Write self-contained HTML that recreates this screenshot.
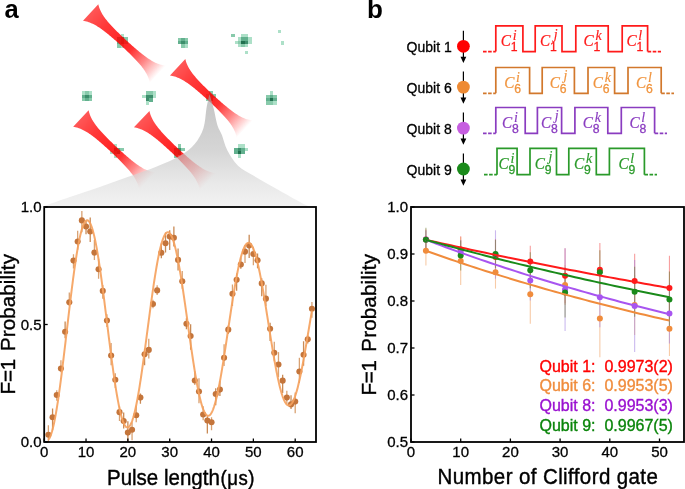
<!DOCTYPE html><html><head><meta charset="utf-8"><style>html,body{margin:0;padding:0;background:#fff;width:685px;height:489px;overflow:hidden}svg{display:block;will-change:transform}text{font-family:"Liberation Sans",sans-serif}.ser{font-family:"Liberation Serif",serif;font-style:italic}.k{stroke:#000;stroke-width:0.3}.k2{stroke:#000;stroke-width:0.4}</style></head><body>
<svg width="685" height="489" viewBox="0 0 685 489">
<defs>
<linearGradient id="cg" x1="0" y1="94" x2="0" y2="207" gradientUnits="userSpaceOnUse"><stop offset="0" stop-color="#a4a4a4"/><stop offset="0.5" stop-color="#c0c0c0"/><stop offset="0.8" stop-color="#dedede"/><stop offset="1" stop-color="#ececec"/></linearGradient>
<filter id="bl" x="-10%" y="-10%" width="120%" height="120%"><feGaussianBlur stdDeviation="0.45"/></filter>
</defs>
<g filter="url(#bl)" shape-rendering="crispEdges">
<rect x="120.62" y="33.80" width="3.46" height="3.46" fill="#ade0c8"/><rect x="117.20" y="37.22" width="3.46" height="3.46" fill="#62b08e"/><rect x="120.62" y="37.22" width="3.46" height="3.46" fill="#3d8e6c"/><rect x="124.04" y="37.22" width="3.46" height="3.46" fill="#88caab"/><rect x="117.20" y="40.64" width="3.46" height="3.46" fill="#62b08e"/><rect x="120.62" y="40.64" width="3.46" height="3.46" fill="#3d8e6c"/><rect x="124.04" y="40.64" width="3.46" height="3.46" fill="#88caab"/><rect x="117.20" y="44.06" width="3.46" height="3.46" fill="#88caab"/><rect x="120.62" y="44.06" width="3.46" height="3.46" fill="#ade0c8"/>
<rect x="177.90" y="37.60" width="3.46" height="3.46" fill="#88caab"/><rect x="181.32" y="37.60" width="3.46" height="3.46" fill="#62b08e"/><rect x="184.74" y="37.60" width="3.46" height="3.46" fill="#88caab"/><rect x="177.90" y="41.02" width="3.46" height="3.46" fill="#62b08e"/><rect x="181.32" y="41.02" width="3.46" height="3.46" fill="#3d8e6c"/><rect x="184.74" y="41.02" width="3.46" height="3.46" fill="#62b08e"/><rect x="181.32" y="44.44" width="3.46" height="3.46" fill="#88caab"/><rect x="184.74" y="44.44" width="3.46" height="3.46" fill="#ade0c8"/>
<rect x="231.10" y="33.70" width="3.46" height="3.46" fill="#88caab"/><rect x="241.36" y="33.70" width="3.46" height="3.46" fill="#ade0c8"/><rect x="244.78" y="33.70" width="3.46" height="3.46" fill="#ade0c8"/><rect x="237.94" y="37.12" width="3.46" height="3.46" fill="#ade0c8"/><rect x="241.36" y="37.12" width="3.46" height="3.46" fill="#62b08e"/><rect x="244.78" y="37.12" width="3.46" height="3.46" fill="#62b08e"/><rect x="248.20" y="37.12" width="3.46" height="3.46" fill="#ade0c8"/><rect x="234.52" y="40.54" width="3.46" height="3.46" fill="#ade0c8"/><rect x="237.94" y="40.54" width="3.46" height="3.46" fill="#88caab"/><rect x="241.36" y="40.54" width="3.46" height="3.46" fill="#22704f"/><rect x="244.78" y="40.54" width="3.46" height="3.46" fill="#3d8e6c"/><rect x="248.20" y="40.54" width="3.46" height="3.46" fill="#ade0c8"/><rect x="237.94" y="43.96" width="3.46" height="3.46" fill="#ade0c8"/><rect x="241.36" y="43.96" width="3.46" height="3.46" fill="#88caab"/><rect x="244.78" y="43.96" width="3.46" height="3.46" fill="#ade0c8"/><rect x="244.78" y="50.80" width="3.46" height="3.46" fill="#ade0c8"/>
<rect x="81.90" y="91.10" width="3.46" height="3.46" fill="#ade0c8"/><rect x="85.32" y="91.10" width="3.46" height="3.46" fill="#88caab"/><rect x="88.74" y="91.10" width="3.46" height="3.46" fill="#ade0c8"/><rect x="81.90" y="94.52" width="3.46" height="3.46" fill="#62b08e"/><rect x="85.32" y="94.52" width="3.46" height="3.46" fill="#3d8e6c"/><rect x="88.74" y="94.52" width="3.46" height="3.46" fill="#62b08e"/><rect x="81.90" y="97.94" width="3.46" height="3.46" fill="#88caab"/><rect x="85.32" y="97.94" width="3.46" height="3.46" fill="#62b08e"/><rect x="88.74" y="97.94" width="3.46" height="3.46" fill="#88caab"/>
<rect x="145.72" y="91.20" width="3.46" height="3.46" fill="#88caab"/><rect x="149.14" y="91.20" width="3.46" height="3.46" fill="#88caab"/><rect x="152.56" y="91.20" width="3.46" height="3.46" fill="#ade0c8"/><rect x="142.30" y="94.62" width="3.46" height="3.46" fill="#ade0c8"/><rect x="145.72" y="94.62" width="3.46" height="3.46" fill="#3d8e6c"/><rect x="149.14" y="94.62" width="3.46" height="3.46" fill="#3d8e6c"/><rect x="152.56" y="94.62" width="3.46" height="3.46" fill="#ade0c8"/><rect x="145.72" y="98.04" width="3.46" height="3.46" fill="#3d8e6c"/><rect x="149.14" y="98.04" width="3.46" height="3.46" fill="#62b08e"/><rect x="145.72" y="101.46" width="3.46" height="3.46" fill="#ade0c8"/>
<rect x="209.22" y="91.00" width="3.46" height="3.46" fill="#88caab"/><rect x="205.80" y="94.42" width="3.46" height="3.46" fill="#ade0c8"/><rect x="209.22" y="94.42" width="3.46" height="3.46" fill="#62b08e"/><rect x="212.64" y="94.42" width="3.46" height="3.46" fill="#88caab"/><rect x="205.80" y="97.84" width="3.46" height="3.46" fill="#88caab"/><rect x="209.22" y="97.84" width="3.46" height="3.46" fill="#62b08e"/>
<rect x="269.72" y="91.20" width="3.46" height="3.46" fill="#ade0c8"/><rect x="266.30" y="94.62" width="3.46" height="3.46" fill="#88caab"/><rect x="269.72" y="94.62" width="3.46" height="3.46" fill="#62b08e"/><rect x="273.14" y="94.62" width="3.46" height="3.46" fill="#88caab"/><rect x="266.30" y="98.04" width="3.46" height="3.46" fill="#62b08e"/><rect x="269.72" y="98.04" width="3.46" height="3.46" fill="#22704f"/><rect x="273.14" y="98.04" width="3.46" height="3.46" fill="#62b08e"/><rect x="266.30" y="101.46" width="3.46" height="3.46" fill="#88caab"/><rect x="269.72" y="101.46" width="3.46" height="3.46" fill="#88caab"/><rect x="273.14" y="101.46" width="3.46" height="3.46" fill="#ade0c8"/>
<rect x="113.52" y="144.10" width="3.46" height="3.46" fill="#ade0c8"/><rect x="113.52" y="147.52" width="3.46" height="3.46" fill="#3d8e6c"/><rect x="116.94" y="147.52" width="3.46" height="3.46" fill="#62b08e"/><rect x="120.36" y="147.52" width="3.46" height="3.46" fill="#88caab"/><rect x="110.10" y="150.94" width="3.46" height="3.46" fill="#ade0c8"/><rect x="113.52" y="150.94" width="3.46" height="3.46" fill="#62b08e"/><rect x="116.94" y="150.94" width="3.46" height="3.46" fill="#3d8e6c"/><rect x="113.52" y="154.36" width="3.46" height="3.46" fill="#ade0c8"/>
<rect x="177.62" y="144.40" width="3.46" height="3.46" fill="#88caab"/><rect x="174.20" y="147.82" width="3.46" height="3.46" fill="#62b08e"/><rect x="177.62" y="147.82" width="3.46" height="3.46" fill="#3d8e6c"/><rect x="181.04" y="147.82" width="3.46" height="3.46" fill="#88caab"/><rect x="174.20" y="151.24" width="3.46" height="3.46" fill="#62b08e"/><rect x="177.62" y="151.24" width="3.46" height="3.46" fill="#3d8e6c"/><rect x="174.20" y="154.66" width="3.46" height="3.46" fill="#88caab"/>
<rect x="237.82" y="144.10" width="3.46" height="3.46" fill="#ade0c8"/><rect x="241.24" y="144.10" width="3.46" height="3.46" fill="#ade0c8"/><rect x="234.40" y="147.52" width="3.46" height="3.46" fill="#62b08e"/><rect x="237.82" y="147.52" width="3.46" height="3.46" fill="#3d8e6c"/><rect x="241.24" y="147.52" width="3.46" height="3.46" fill="#62b08e"/><rect x="244.66" y="147.52" width="3.46" height="3.46" fill="#ade0c8"/><rect x="234.40" y="150.94" width="3.46" height="3.46" fill="#62b08e"/><rect x="237.82" y="150.94" width="3.46" height="3.46" fill="#22704f"/><rect x="241.24" y="150.94" width="3.46" height="3.46" fill="#62b08e"/><rect x="237.82" y="154.36" width="3.46" height="3.46" fill="#ade0c8"/>
<rect x="277.60" y="30.00" width="3.46" height="3.46" fill="#ade0c8"/>
<rect x="280.90" y="41.30" width="3.46" height="3.46" fill="#ade0c8"/>
</g>
<linearGradient id="bm1" x1="0" y1="0" x2="91.30" y2="0" gradientUnits="userSpaceOnUse"><stop offset="0" stop-color="#ff0000" stop-opacity="0.66"/><stop offset="0.222" stop-color="#ff0000" stop-opacity="0.78"/><stop offset="0.496" stop-color="#ff0000" stop-opacity="0.86"/><stop offset="0.606" stop-color="#ff0000" stop-opacity="0.8"/><stop offset="0.792" stop-color="#ff1010" stop-opacity="0.5"/><stop offset="0.934" stop-color="#ff2020" stop-opacity="0.17"/><stop offset="1" stop-color="#ff3030" stop-opacity="0"/></linearGradient><path transform="translate(90.65,12.55) rotate(42.60)" d="M0.00,-11.30 L1.03,-10.61 L2.05,-9.98 L3.08,-9.40 L4.10,-8.87 L5.13,-8.40 L6.16,-7.96 L7.18,-7.56 L8.21,-7.20 L9.23,-6.87 L10.26,-6.57 L11.28,-6.30 L12.31,-6.05 L13.34,-5.82 L14.36,-5.61 L15.39,-5.43 L16.41,-5.26 L17.44,-5.10 L18.47,-4.96 L19.49,-4.83 L20.52,-4.71 L21.54,-4.60 L22.57,-4.50 L23.59,-4.41 L24.62,-4.33 L25.65,-4.26 L26.67,-4.19 L27.70,-4.13 L28.72,-4.07 L29.75,-4.02 L30.78,-3.98 L31.80,-3.93 L32.83,-3.89 L33.85,-3.86 L34.88,-3.83 L35.90,-3.80 L36.93,-3.77 L37.96,-3.75 L38.98,-3.73 L40.01,-3.71 L41.03,-3.69 L42.06,-3.67 L43.09,-3.66 L44.11,-3.64 L45.14,-3.63 L46.16,-3.64 L47.19,-3.65 L48.21,-3.67 L49.24,-3.68 L50.27,-3.70 L51.29,-3.72 L52.32,-3.74 L53.34,-3.76 L54.37,-3.79 L55.40,-3.82 L56.42,-3.85 L57.45,-3.88 L58.47,-3.92 L59.50,-3.96 L60.52,-4.01 L61.55,-4.06 L62.58,-4.11 L63.60,-4.17 L64.63,-4.24 L65.65,-4.31 L66.68,-4.39 L67.71,-4.47 L68.73,-4.57 L69.76,-4.67 L70.78,-4.79 L71.81,-4.91 L72.83,-5.05 L73.86,-5.20 L74.89,-5.37 L75.91,-5.55 L76.94,-5.75 L77.96,-5.97 L78.99,-6.22 L80.02,-6.48 L81.04,-6.77 L82.07,-7.09 L83.09,-7.44 L84.12,-7.83 L85.14,-8.25 L86.17,-8.72 L87.20,-9.23 L88.22,-9.79 L89.25,-10.40 L90.27,-11.08 L91.30,-11.82 L91.30,11.82 L90.27,11.08 L89.25,10.40 L88.22,9.79 L87.20,9.23 L86.17,8.72 L85.14,8.25 L84.12,7.83 L83.09,7.44 L82.07,7.09 L81.04,6.77 L80.02,6.48 L78.99,6.22 L77.96,5.97 L76.94,5.75 L75.91,5.55 L74.89,5.37 L73.86,5.20 L72.83,5.05 L71.81,4.91 L70.78,4.79 L69.76,4.67 L68.73,4.57 L67.71,4.47 L66.68,4.39 L65.65,4.31 L64.63,4.24 L63.60,4.17 L62.58,4.11 L61.55,4.06 L60.52,4.01 L59.50,3.96 L58.47,3.92 L57.45,3.88 L56.42,3.85 L55.40,3.82 L54.37,3.79 L53.34,3.76 L52.32,3.74 L51.29,3.72 L50.27,3.70 L49.24,3.68 L48.21,3.67 L47.19,3.65 L46.16,3.64 L45.14,3.63 L44.11,3.64 L43.09,3.66 L42.06,3.67 L41.03,3.69 L40.01,3.71 L38.98,3.73 L37.96,3.75 L36.93,3.77 L35.90,3.80 L34.88,3.83 L33.85,3.86 L32.83,3.89 L31.80,3.93 L30.78,3.98 L29.75,4.02 L28.72,4.07 L27.70,4.13 L26.67,4.19 L25.65,4.26 L24.62,4.33 L23.59,4.41 L22.57,4.50 L21.54,4.60 L20.52,4.71 L19.49,4.83 L18.47,4.96 L17.44,5.10 L16.41,5.26 L15.39,5.43 L14.36,5.61 L13.34,5.82 L12.31,6.05 L11.28,6.30 L10.26,6.57 L9.23,6.87 L8.21,7.20 L7.18,7.56 L6.16,7.96 L5.13,8.40 L4.10,8.87 L3.08,9.40 L2.05,9.98 L1.03,10.61 L0.00,11.30Z" fill="url(#bm1)"/>
<linearGradient id="bm2" x1="0" y1="0" x2="91.30" y2="0" gradientUnits="userSpaceOnUse"><stop offset="0" stop-color="#ff0000" stop-opacity="0.66"/><stop offset="0.222" stop-color="#ff0000" stop-opacity="0.78"/><stop offset="0.496" stop-color="#ff0000" stop-opacity="0.86"/><stop offset="0.606" stop-color="#ff0000" stop-opacity="0.8"/><stop offset="0.792" stop-color="#ff1010" stop-opacity="0.5"/><stop offset="0.934" stop-color="#ff2020" stop-opacity="0.17"/><stop offset="1" stop-color="#ff3030" stop-opacity="0"/></linearGradient><path transform="translate(177.65,67.20) rotate(42.70)" d="M0.00,-11.30 L1.03,-10.61 L2.05,-9.98 L3.08,-9.40 L4.10,-8.87 L5.13,-8.40 L6.16,-7.96 L7.18,-7.56 L8.21,-7.20 L9.23,-6.87 L10.26,-6.57 L11.28,-6.30 L12.31,-6.05 L13.34,-5.82 L14.36,-5.61 L15.39,-5.43 L16.41,-5.26 L17.44,-5.10 L18.47,-4.96 L19.49,-4.83 L20.52,-4.71 L21.54,-4.60 L22.57,-4.50 L23.59,-4.41 L24.62,-4.33 L25.65,-4.26 L26.67,-4.19 L27.70,-4.13 L28.72,-4.07 L29.75,-4.02 L30.78,-3.98 L31.80,-3.93 L32.83,-3.89 L33.85,-3.86 L34.88,-3.83 L35.90,-3.80 L36.93,-3.77 L37.96,-3.75 L38.98,-3.73 L40.01,-3.71 L41.03,-3.69 L42.06,-3.67 L43.09,-3.66 L44.11,-3.64 L45.14,-3.63 L46.16,-3.64 L47.19,-3.65 L48.21,-3.67 L49.24,-3.68 L50.27,-3.70 L51.29,-3.72 L52.32,-3.74 L53.34,-3.76 L54.37,-3.79 L55.40,-3.82 L56.42,-3.85 L57.45,-3.88 L58.47,-3.92 L59.50,-3.96 L60.52,-4.01 L61.55,-4.06 L62.58,-4.11 L63.60,-4.17 L64.63,-4.24 L65.65,-4.31 L66.68,-4.39 L67.71,-4.47 L68.73,-4.57 L69.76,-4.67 L70.78,-4.79 L71.81,-4.91 L72.83,-5.05 L73.86,-5.20 L74.89,-5.37 L75.91,-5.55 L76.94,-5.75 L77.96,-5.97 L78.99,-6.22 L80.02,-6.48 L81.04,-6.77 L82.07,-7.09 L83.09,-7.44 L84.12,-7.83 L85.14,-8.25 L86.17,-8.72 L87.20,-9.23 L88.22,-9.79 L89.25,-10.40 L90.27,-11.08 L91.30,-11.82 L91.30,11.82 L90.27,11.08 L89.25,10.40 L88.22,9.79 L87.20,9.23 L86.17,8.72 L85.14,8.25 L84.12,7.83 L83.09,7.44 L82.07,7.09 L81.04,6.77 L80.02,6.48 L78.99,6.22 L77.96,5.97 L76.94,5.75 L75.91,5.55 L74.89,5.37 L73.86,5.20 L72.83,5.05 L71.81,4.91 L70.78,4.79 L69.76,4.67 L68.73,4.57 L67.71,4.47 L66.68,4.39 L65.65,4.31 L64.63,4.24 L63.60,4.17 L62.58,4.11 L61.55,4.06 L60.52,4.01 L59.50,3.96 L58.47,3.92 L57.45,3.88 L56.42,3.85 L55.40,3.82 L54.37,3.79 L53.34,3.76 L52.32,3.74 L51.29,3.72 L50.27,3.70 L49.24,3.68 L48.21,3.67 L47.19,3.65 L46.16,3.64 L45.14,3.63 L44.11,3.64 L43.09,3.66 L42.06,3.67 L41.03,3.69 L40.01,3.71 L38.98,3.73 L37.96,3.75 L36.93,3.77 L35.90,3.80 L34.88,3.83 L33.85,3.86 L32.83,3.89 L31.80,3.93 L30.78,3.98 L29.75,4.02 L28.72,4.07 L27.70,4.13 L26.67,4.19 L25.65,4.26 L24.62,4.33 L23.59,4.41 L22.57,4.50 L21.54,4.60 L20.52,4.71 L19.49,4.83 L18.47,4.96 L17.44,5.10 L16.41,5.26 L15.39,5.43 L14.36,5.61 L13.34,5.82 L12.31,6.05 L11.28,6.30 L10.26,6.57 L9.23,6.87 L8.21,7.20 L7.18,7.56 L6.16,7.96 L5.13,8.40 L4.10,8.87 L3.08,9.40 L2.05,9.98 L1.03,10.61 L0.00,11.30Z" fill="url(#bm2)"/>
<linearGradient id="bm3" x1="0" y1="0" x2="91.30" y2="0" gradientUnits="userSpaceOnUse"><stop offset="0" stop-color="#ff0000" stop-opacity="0.66"/><stop offset="0.222" stop-color="#ff0000" stop-opacity="0.78"/><stop offset="0.496" stop-color="#ff0000" stop-opacity="0.86"/><stop offset="0.606" stop-color="#ff0000" stop-opacity="0.8"/><stop offset="0.792" stop-color="#ff1010" stop-opacity="0.5"/><stop offset="0.934" stop-color="#ff2020" stop-opacity="0.17"/><stop offset="1" stop-color="#ff3030" stop-opacity="0"/></linearGradient><path transform="translate(80.90,118.60) rotate(43.20)" d="M0.00,-11.30 L1.03,-10.61 L2.05,-9.98 L3.08,-9.40 L4.10,-8.87 L5.13,-8.40 L6.16,-7.96 L7.18,-7.56 L8.21,-7.20 L9.23,-6.87 L10.26,-6.57 L11.28,-6.30 L12.31,-6.05 L13.34,-5.82 L14.36,-5.61 L15.39,-5.43 L16.41,-5.26 L17.44,-5.10 L18.47,-4.96 L19.49,-4.83 L20.52,-4.71 L21.54,-4.60 L22.57,-4.50 L23.59,-4.41 L24.62,-4.33 L25.65,-4.26 L26.67,-4.19 L27.70,-4.13 L28.72,-4.07 L29.75,-4.02 L30.78,-3.98 L31.80,-3.93 L32.83,-3.89 L33.85,-3.86 L34.88,-3.83 L35.90,-3.80 L36.93,-3.77 L37.96,-3.75 L38.98,-3.73 L40.01,-3.71 L41.03,-3.69 L42.06,-3.67 L43.09,-3.66 L44.11,-3.64 L45.14,-3.63 L46.16,-3.64 L47.19,-3.65 L48.21,-3.67 L49.24,-3.68 L50.27,-3.70 L51.29,-3.72 L52.32,-3.74 L53.34,-3.76 L54.37,-3.79 L55.40,-3.82 L56.42,-3.85 L57.45,-3.88 L58.47,-3.92 L59.50,-3.96 L60.52,-4.01 L61.55,-4.06 L62.58,-4.11 L63.60,-4.17 L64.63,-4.24 L65.65,-4.31 L66.68,-4.39 L67.71,-4.47 L68.73,-4.57 L69.76,-4.67 L70.78,-4.79 L71.81,-4.91 L72.83,-5.05 L73.86,-5.20 L74.89,-5.37 L75.91,-5.55 L76.94,-5.75 L77.96,-5.97 L78.99,-6.22 L80.02,-6.48 L81.04,-6.77 L82.07,-7.09 L83.09,-7.44 L84.12,-7.83 L85.14,-8.25 L86.17,-8.72 L87.20,-9.23 L88.22,-9.79 L89.25,-10.40 L90.27,-11.08 L91.30,-11.82 L91.30,11.82 L90.27,11.08 L89.25,10.40 L88.22,9.79 L87.20,9.23 L86.17,8.72 L85.14,8.25 L84.12,7.83 L83.09,7.44 L82.07,7.09 L81.04,6.77 L80.02,6.48 L78.99,6.22 L77.96,5.97 L76.94,5.75 L75.91,5.55 L74.89,5.37 L73.86,5.20 L72.83,5.05 L71.81,4.91 L70.78,4.79 L69.76,4.67 L68.73,4.57 L67.71,4.47 L66.68,4.39 L65.65,4.31 L64.63,4.24 L63.60,4.17 L62.58,4.11 L61.55,4.06 L60.52,4.01 L59.50,3.96 L58.47,3.92 L57.45,3.88 L56.42,3.85 L55.40,3.82 L54.37,3.79 L53.34,3.76 L52.32,3.74 L51.29,3.72 L50.27,3.70 L49.24,3.68 L48.21,3.67 L47.19,3.65 L46.16,3.64 L45.14,3.63 L44.11,3.64 L43.09,3.66 L42.06,3.67 L41.03,3.69 L40.01,3.71 L38.98,3.73 L37.96,3.75 L36.93,3.77 L35.90,3.80 L34.88,3.83 L33.85,3.86 L32.83,3.89 L31.80,3.93 L30.78,3.98 L29.75,4.02 L28.72,4.07 L27.70,4.13 L26.67,4.19 L25.65,4.26 L24.62,4.33 L23.59,4.41 L22.57,4.50 L21.54,4.60 L20.52,4.71 L19.49,4.83 L18.47,4.96 L17.44,5.10 L16.41,5.26 L15.39,5.43 L14.36,5.61 L13.34,5.82 L12.31,6.05 L11.28,6.30 L10.26,6.57 L9.23,6.87 L8.21,7.20 L7.18,7.56 L6.16,7.96 L5.13,8.40 L4.10,8.87 L3.08,9.40 L2.05,9.98 L1.03,10.61 L0.00,11.30Z" fill="url(#bm3)"/>
<linearGradient id="bm4" x1="0" y1="0" x2="91.30" y2="0" gradientUnits="userSpaceOnUse"><stop offset="0" stop-color="#ff0000" stop-opacity="0.66"/><stop offset="0.222" stop-color="#ff0000" stop-opacity="0.78"/><stop offset="0.496" stop-color="#ff0000" stop-opacity="0.86"/><stop offset="0.606" stop-color="#ff0000" stop-opacity="0.8"/><stop offset="0.792" stop-color="#ff1010" stop-opacity="0.5"/><stop offset="0.934" stop-color="#ff2020" stop-opacity="0.17"/><stop offset="1" stop-color="#ff3030" stop-opacity="0"/></linearGradient><path transform="translate(141.70,119.15) rotate(43.40)" d="M0.00,-11.30 L1.03,-10.61 L2.05,-9.98 L3.08,-9.40 L4.10,-8.87 L5.13,-8.40 L6.16,-7.96 L7.18,-7.56 L8.21,-7.20 L9.23,-6.87 L10.26,-6.57 L11.28,-6.30 L12.31,-6.05 L13.34,-5.82 L14.36,-5.61 L15.39,-5.43 L16.41,-5.26 L17.44,-5.10 L18.47,-4.96 L19.49,-4.83 L20.52,-4.71 L21.54,-4.60 L22.57,-4.50 L23.59,-4.41 L24.62,-4.33 L25.65,-4.26 L26.67,-4.19 L27.70,-4.13 L28.72,-4.07 L29.75,-4.02 L30.78,-3.98 L31.80,-3.93 L32.83,-3.89 L33.85,-3.86 L34.88,-3.83 L35.90,-3.80 L36.93,-3.77 L37.96,-3.75 L38.98,-3.73 L40.01,-3.71 L41.03,-3.69 L42.06,-3.67 L43.09,-3.66 L44.11,-3.64 L45.14,-3.63 L46.16,-3.64 L47.19,-3.65 L48.21,-3.67 L49.24,-3.68 L50.27,-3.70 L51.29,-3.72 L52.32,-3.74 L53.34,-3.76 L54.37,-3.79 L55.40,-3.82 L56.42,-3.85 L57.45,-3.88 L58.47,-3.92 L59.50,-3.96 L60.52,-4.01 L61.55,-4.06 L62.58,-4.11 L63.60,-4.17 L64.63,-4.24 L65.65,-4.31 L66.68,-4.39 L67.71,-4.47 L68.73,-4.57 L69.76,-4.67 L70.78,-4.79 L71.81,-4.91 L72.83,-5.05 L73.86,-5.20 L74.89,-5.37 L75.91,-5.55 L76.94,-5.75 L77.96,-5.97 L78.99,-6.22 L80.02,-6.48 L81.04,-6.77 L82.07,-7.09 L83.09,-7.44 L84.12,-7.83 L85.14,-8.25 L86.17,-8.72 L87.20,-9.23 L88.22,-9.79 L89.25,-10.40 L90.27,-11.08 L91.30,-11.82 L91.30,11.82 L90.27,11.08 L89.25,10.40 L88.22,9.79 L87.20,9.23 L86.17,8.72 L85.14,8.25 L84.12,7.83 L83.09,7.44 L82.07,7.09 L81.04,6.77 L80.02,6.48 L78.99,6.22 L77.96,5.97 L76.94,5.75 L75.91,5.55 L74.89,5.37 L73.86,5.20 L72.83,5.05 L71.81,4.91 L70.78,4.79 L69.76,4.67 L68.73,4.57 L67.71,4.47 L66.68,4.39 L65.65,4.31 L64.63,4.24 L63.60,4.17 L62.58,4.11 L61.55,4.06 L60.52,4.01 L59.50,3.96 L58.47,3.92 L57.45,3.88 L56.42,3.85 L55.40,3.82 L54.37,3.79 L53.34,3.76 L52.32,3.74 L51.29,3.72 L50.27,3.70 L49.24,3.68 L48.21,3.67 L47.19,3.65 L46.16,3.64 L45.14,3.63 L44.11,3.64 L43.09,3.66 L42.06,3.67 L41.03,3.69 L40.01,3.71 L38.98,3.73 L37.96,3.75 L36.93,3.77 L35.90,3.80 L34.88,3.83 L33.85,3.86 L32.83,3.89 L31.80,3.93 L30.78,3.98 L29.75,4.02 L28.72,4.07 L27.70,4.13 L26.67,4.19 L25.65,4.26 L24.62,4.33 L23.59,4.41 L22.57,4.50 L21.54,4.60 L20.52,4.71 L19.49,4.83 L18.47,4.96 L17.44,5.10 L16.41,5.26 L15.39,5.43 L14.36,5.61 L13.34,5.82 L12.31,6.05 L11.28,6.30 L10.26,6.57 L9.23,6.87 L8.21,7.20 L7.18,7.56 L6.16,7.96 L5.13,8.40 L4.10,8.87 L3.08,9.40 L2.05,9.98 L1.03,10.61 L0.00,11.30Z" fill="url(#bm4)"/>
<path d="M209.50,94.00 C209.02,96.27 207.60,101.93 206.60,107.60 C205.60,113.27 205.48,121.93 203.50,128.00 C201.52,134.07 198.60,139.38 194.70,144.00 C190.80,148.62 186.42,151.97 180.10,155.70 C173.78,159.43 165.55,162.85 156.80,166.40 C148.05,169.95 137.33,173.50 127.60,177.00 C117.87,180.50 108.13,184.02 98.40,187.40 C88.67,190.78 77.97,194.28 69.20,197.30 C60.43,200.32 49.92,203.88 45.80,205.50 C41.68,207.12 44.72,206.75 44.50,207.00 L309.00,207.00 C308.67,206.77 308.35,206.35 307.00,205.60 C305.65,204.85 306.02,205.32 300.90,202.50 C295.78,199.68 284.23,193.18 276.30,188.70 C268.37,184.22 259.68,179.43 253.30,175.60 C246.92,171.77 242.33,169.92 238.00,165.70 C233.67,161.48 229.98,155.42 227.30,150.30 C224.62,145.18 223.53,139.15 221.90,135.00 C220.27,130.85 218.85,129.73 217.50,125.40 C216.15,121.07 214.75,112.90 213.80,109.00 C212.85,105.10 212.52,104.50 211.80,102.00 C211.08,99.50 209.88,95.33 209.50,94.00 Z" fill="url(#cg)" fill-opacity="0.66"/>
<text x="4.6" y="18.1" font-size="25.5" font-weight="bold">a</text>
<text x="367" y="18" font-size="26" font-weight="bold">b</text>
<clipPath id="cpa"><rect x="44.2" y="207" width="271.8" height="235"/></clipPath><g clip-path="url(#cpa)">
<line x1="48.38" y1="425.37" x2="48.38" y2="445.73" stroke="#d9a273" stroke-width="1.3"/>
<line x1="52.57" y1="408.40" x2="52.57" y2="430.29" stroke="#c98a55" stroke-width="1.3"/>
<line x1="56.75" y1="390.15" x2="56.75" y2="400.72" stroke="#d9a273" stroke-width="1.3"/>
<line x1="60.93" y1="360.26" x2="60.93" y2="372.29" stroke="#d9a273" stroke-width="1.3"/>
<line x1="65.12" y1="321.40" x2="65.12" y2="338.26" stroke="#c98a55" stroke-width="1.3"/>
<line x1="69.30" y1="292.40" x2="69.30" y2="305.95" stroke="#d9a273" stroke-width="1.3"/>
<line x1="73.48" y1="254.31" x2="73.48" y2="268.49" stroke="#d9a273" stroke-width="1.3"/>
<line x1="77.67" y1="230.69" x2="77.67" y2="249.73" stroke="#d9a273" stroke-width="1.3"/>
<line x1="81.85" y1="211.11" x2="81.85" y2="232.17" stroke="#d9a273" stroke-width="1.3"/>
<line x1="86.03" y1="220.63" x2="86.03" y2="234.13" stroke="#c98a55" stroke-width="1.3"/>
<line x1="90.22" y1="217.59" x2="90.22" y2="242.08" stroke="#c98a55" stroke-width="1.3"/>
<line x1="94.40" y1="240.12" x2="94.40" y2="260.11" stroke="#d9a273" stroke-width="1.3"/>
<line x1="98.58" y1="258.84" x2="98.58" y2="278.70" stroke="#d9a273" stroke-width="1.3"/>
<line x1="102.77" y1="284.99" x2="102.77" y2="298.72" stroke="#d9a273" stroke-width="1.3"/>
<line x1="106.95" y1="314.13" x2="106.95" y2="327.12" stroke="#d9a273" stroke-width="1.3"/>
<line x1="111.13" y1="342.89" x2="111.13" y2="365.24" stroke="#d9a273" stroke-width="1.3"/>
<line x1="115.32" y1="373.26" x2="115.32" y2="388.06" stroke="#d9a273" stroke-width="1.3"/>
<line x1="119.50" y1="406.50" x2="119.50" y2="421.12" stroke="#d9a273" stroke-width="1.3"/>
<line x1="123.68" y1="412.45" x2="123.68" y2="428.44" stroke="#c98a55" stroke-width="1.3"/>
<line x1="127.87" y1="421.18" x2="127.87" y2="443.43" stroke="#c98a55" stroke-width="1.3"/>
<line x1="132.05" y1="422.30" x2="132.05" y2="440.37" stroke="#d9a273" stroke-width="1.3"/>
<line x1="136.23" y1="405.63" x2="136.23" y2="422.18" stroke="#d9a273" stroke-width="1.3"/>
<line x1="140.42" y1="393.41" x2="140.42" y2="403.68" stroke="#c98a55" stroke-width="1.3"/>
<line x1="144.60" y1="348.38" x2="144.60" y2="365.18" stroke="#c98a55" stroke-width="1.3"/>
<line x1="148.78" y1="338.70" x2="148.78" y2="358.43" stroke="#d9a273" stroke-width="1.3"/>
<line x1="152.97" y1="299.82" x2="152.97" y2="308.35" stroke="#d9a273" stroke-width="1.3"/>
<line x1="157.15" y1="285.29" x2="157.15" y2="295.01" stroke="#d9a273" stroke-width="1.3"/>
<line x1="161.33" y1="243.45" x2="161.33" y2="258.34" stroke="#c98a55" stroke-width="1.3"/>
<line x1="165.52" y1="232.46" x2="165.52" y2="252.44" stroke="#c98a55" stroke-width="1.3"/>
<line x1="169.70" y1="230.29" x2="169.70" y2="249.94" stroke="#c98a55" stroke-width="1.3"/>
<line x1="173.88" y1="226.58" x2="173.88" y2="246.39" stroke="#c98a55" stroke-width="1.3"/>
<line x1="178.07" y1="248.47" x2="178.07" y2="270.38" stroke="#c98a55" stroke-width="1.3"/>
<line x1="182.25" y1="271.03" x2="182.25" y2="288.65" stroke="#d9a273" stroke-width="1.3"/>
<line x1="186.43" y1="318.19" x2="186.43" y2="329.35" stroke="#c98a55" stroke-width="1.3"/>
<line x1="190.62" y1="324.19" x2="190.62" y2="349.82" stroke="#c98a55" stroke-width="1.3"/>
<line x1="194.80" y1="371.16" x2="194.80" y2="384.90" stroke="#d9a273" stroke-width="1.3"/>
<line x1="198.98" y1="378.14" x2="198.98" y2="403.33" stroke="#d9a273" stroke-width="1.3"/>
<line x1="203.17" y1="406.17" x2="203.17" y2="420.34" stroke="#d9a273" stroke-width="1.3"/>
<line x1="207.35" y1="416.31" x2="207.35" y2="433.58" stroke="#c98a55" stroke-width="1.3"/>
<line x1="211.53" y1="417.22" x2="211.53" y2="430.16" stroke="#d9a273" stroke-width="1.3"/>
<line x1="215.72" y1="388.32" x2="215.72" y2="405.31" stroke="#c98a55" stroke-width="1.3"/>
<line x1="219.90" y1="381.00" x2="219.90" y2="396.03" stroke="#c98a55" stroke-width="1.3"/>
<line x1="224.08" y1="344.23" x2="224.08" y2="366.00" stroke="#d9a273" stroke-width="1.3"/>
<line x1="228.27" y1="325.53" x2="228.27" y2="334.07" stroke="#c98a55" stroke-width="1.3"/>
<line x1="232.45" y1="284.47" x2="232.45" y2="306.10" stroke="#d9a273" stroke-width="1.3"/>
<line x1="236.63" y1="273.57" x2="236.63" y2="290.69" stroke="#c98a55" stroke-width="1.3"/>
<line x1="240.82" y1="257.45" x2="240.82" y2="268.78" stroke="#c98a55" stroke-width="1.3"/>
<line x1="245.00" y1="245.05" x2="245.00" y2="263.01" stroke="#d9a273" stroke-width="1.3"/>
<line x1="249.18" y1="234.67" x2="249.18" y2="257.96" stroke="#c98a55" stroke-width="1.3"/>
<line x1="253.37" y1="246.68" x2="253.37" y2="265.21" stroke="#d9a273" stroke-width="1.3"/>
<line x1="257.55" y1="253.50" x2="257.55" y2="268.31" stroke="#c98a55" stroke-width="1.3"/>
<line x1="261.73" y1="278.22" x2="261.73" y2="296.21" stroke="#c98a55" stroke-width="1.3"/>
<line x1="265.92" y1="284.85" x2="265.92" y2="306.06" stroke="#d9a273" stroke-width="1.3"/>
<line x1="270.10" y1="322.66" x2="270.10" y2="341.01" stroke="#c98a55" stroke-width="1.3"/>
<line x1="274.28" y1="341.79" x2="274.28" y2="361.33" stroke="#d9a273" stroke-width="1.3"/>
<line x1="278.47" y1="352.11" x2="278.47" y2="377.20" stroke="#d9a273" stroke-width="1.3"/>
<line x1="282.65" y1="374.86" x2="282.65" y2="392.99" stroke="#c98a55" stroke-width="1.3"/>
<line x1="286.83" y1="390.73" x2="286.83" y2="404.06" stroke="#d9a273" stroke-width="1.3"/>
<line x1="291.02" y1="395.17" x2="291.02" y2="408.94" stroke="#c98a55" stroke-width="1.3"/>
<line x1="295.20" y1="392.40" x2="295.20" y2="413.30" stroke="#d9a273" stroke-width="1.3"/>
<line x1="299.38" y1="357.77" x2="299.38" y2="382.97" stroke="#d9a273" stroke-width="1.3"/>
<line x1="303.57" y1="341.26" x2="303.57" y2="365.75" stroke="#c98a55" stroke-width="1.3"/>
<line x1="307.75" y1="335.30" x2="307.75" y2="343.42" stroke="#c98a55" stroke-width="1.3"/>
<line x1="311.93" y1="302.01" x2="311.93" y2="317.74" stroke="#d9a273" stroke-width="1.3"/>
<circle cx="48.38" cy="434.71" r="3.05" fill="#c4753b"/>
<circle cx="52.57" cy="417.32" r="3.05" fill="#c4753b"/>
<circle cx="56.75" cy="395.00" r="3.05" fill="#c4753b"/>
<circle cx="60.93" cy="368.44" r="3.05" fill="#c4753b"/>
<circle cx="65.12" cy="331.79" r="3.05" fill="#c4753b"/>
<circle cx="69.30" cy="302.18" r="3.05" fill="#c4753b"/>
<circle cx="73.48" cy="260.58" r="3.05" fill="#c4753b"/>
<circle cx="77.67" cy="241.55" r="3.05" fill="#c4753b"/>
<circle cx="81.85" cy="220.40" r="3.05" fill="#c4753b"/>
<circle cx="86.03" cy="226.50" r="3.05" fill="#c4753b"/>
<circle cx="90.22" cy="231.44" r="3.05" fill="#c4753b"/>
<circle cx="94.40" cy="252.59" r="3.05" fill="#c4753b"/>
<circle cx="98.58" cy="269.27" r="3.05" fill="#c4753b"/>
<circle cx="102.77" cy="290.89" r="3.05" fill="#c4753b"/>
<circle cx="106.95" cy="320.50" r="3.05" fill="#c4753b"/>
<circle cx="111.13" cy="355.52" r="3.05" fill="#c4753b"/>
<circle cx="115.32" cy="379.73" r="3.05" fill="#c4753b"/>
<circle cx="119.50" cy="412.15" r="3.05" fill="#c4753b"/>
<circle cx="123.68" cy="421.08" r="3.05" fill="#c4753b"/>
<circle cx="127.87" cy="432.60" r="3.05" fill="#c4753b"/>
<circle cx="132.05" cy="429.78" r="3.05" fill="#c4753b"/>
<circle cx="136.23" cy="415.21" r="3.05" fill="#c4753b"/>
<circle cx="140.42" cy="397.58" r="3.05" fill="#c4753b"/>
<circle cx="144.60" cy="354.35" r="3.05" fill="#c4753b"/>
<circle cx="148.78" cy="349.88" r="3.05" fill="#c4753b"/>
<circle cx="152.97" cy="304.06" r="3.05" fill="#c4753b"/>
<circle cx="157.15" cy="290.42" r="3.05" fill="#c4753b"/>
<circle cx="161.33" cy="252.82" r="3.05" fill="#c4753b"/>
<circle cx="165.52" cy="243.19" r="3.05" fill="#c4753b"/>
<circle cx="169.70" cy="236.61" r="3.05" fill="#c4753b"/>
<circle cx="173.88" cy="237.78" r="3.05" fill="#c4753b"/>
<circle cx="178.07" cy="259.88" r="3.05" fill="#c4753b"/>
<circle cx="182.25" cy="281.26" r="3.05" fill="#c4753b"/>
<circle cx="186.43" cy="323.80" r="3.05" fill="#c4753b"/>
<circle cx="190.62" cy="336.01" r="3.05" fill="#c4753b"/>
<circle cx="194.80" cy="380.43" r="3.05" fill="#c4753b"/>
<circle cx="198.98" cy="391.48" r="3.05" fill="#c4753b"/>
<circle cx="203.17" cy="414.50" r="3.05" fill="#c4753b"/>
<circle cx="207.35" cy="420.62" r="3.05" fill="#c4753b"/>
<circle cx="211.53" cy="422.26" r="3.05" fill="#c4753b"/>
<circle cx="215.72" cy="394.06" r="3.05" fill="#c4753b"/>
<circle cx="219.90" cy="389.60" r="3.05" fill="#c4753b"/>
<circle cx="224.08" cy="357.87" r="3.05" fill="#c4753b"/>
<circle cx="228.27" cy="329.67" r="3.05" fill="#c4753b"/>
<circle cx="232.45" cy="293.72" r="3.05" fill="#c4753b"/>
<circle cx="236.63" cy="279.85" r="3.05" fill="#c4753b"/>
<circle cx="240.82" cy="264.57" r="3.05" fill="#c4753b"/>
<circle cx="245.00" cy="251.65" r="3.05" fill="#c4753b"/>
<circle cx="249.18" cy="245.54" r="3.05" fill="#c4753b"/>
<circle cx="253.37" cy="254.00" r="3.05" fill="#c4753b"/>
<circle cx="257.55" cy="260.35" r="3.05" fill="#c4753b"/>
<circle cx="261.73" cy="283.38" r="3.05" fill="#c4753b"/>
<circle cx="265.92" cy="298.65" r="3.05" fill="#c4753b"/>
<circle cx="270.10" cy="328.73" r="3.05" fill="#c4753b"/>
<circle cx="274.28" cy="352.70" r="3.05" fill="#c4753b"/>
<circle cx="278.47" cy="364.45" r="3.05" fill="#c4753b"/>
<circle cx="282.65" cy="380.67" r="3.05" fill="#c4753b"/>
<circle cx="286.83" cy="397.58" r="3.05" fill="#c4753b"/>
<circle cx="291.02" cy="404.40" r="3.05" fill="#c4753b"/>
<circle cx="295.20" cy="401.58" r="3.05" fill="#c4753b"/>
<circle cx="299.38" cy="371.50" r="3.05" fill="#c4753b"/>
<circle cx="303.57" cy="354.81" r="3.05" fill="#c4753b"/>
<circle cx="307.75" cy="339.31" r="3.05" fill="#c4753b"/>
<circle cx="311.93" cy="308.75" r="3.05" fill="#c4753b"/>
<polyline fill="none" stroke="#f5a25e" stroke-width="2" stroke-opacity="0.92" points="48.22,439.86 48.74,439.25 49.27,438.46 49.80,437.47 50.33,436.30 50.86,434.95 51.39,433.42 51.92,431.71 52.44,429.83 52.97,427.77 53.50,425.55 54.03,423.17 54.56,420.62 55.09,417.93 55.61,415.08 56.14,412.09 56.67,408.96 57.20,405.69 57.73,402.30 58.26,398.79 58.79,395.16 59.31,391.42 59.84,387.57 60.37,383.63 60.90,379.61 61.43,375.50 61.96,371.31 62.49,367.06 63.01,362.74 63.54,358.37 64.07,353.96 64.60,349.50 65.13,345.02 65.66,340.51 66.18,335.99 66.71,331.46 67.24,326.93 67.77,322.40 68.30,317.90 68.83,313.41 69.36,308.95 69.88,304.54 70.41,300.16 70.94,295.84 71.47,291.58 72.00,287.39 72.53,283.27 73.06,279.23 73.58,275.28 74.11,271.42 74.64,267.66 75.17,264.01 75.70,260.48 76.23,257.06 76.75,253.76 77.28,250.59 77.81,247.56 78.34,244.67 78.87,241.92 79.40,239.32 79.93,236.87 80.45,234.58 80.98,232.45 81.51,230.49 82.04,228.69 82.57,227.06 83.10,225.60 83.62,224.31 84.15,223.20 84.68,222.27 85.21,221.52 85.74,220.95 86.27,220.56 86.80,220.34 87.32,220.32 87.85,220.47 88.38,220.80 88.91,221.31 89.44,222.00 89.97,222.86 90.50,223.90 91.02,225.12 91.55,226.50 92.08,228.05 92.61,229.77 93.14,231.65 93.67,233.69 94.19,235.88 94.72,238.22 95.25,240.71 95.78,243.35 96.31,246.12 96.84,249.02 97.37,252.05 97.89,255.20 98.42,258.47 98.95,261.85 99.48,265.34 100.01,268.92 100.54,272.60 101.07,276.36 101.59,280.20 102.12,284.12 102.65,288.10 103.18,292.14 103.71,296.24 104.24,300.38 104.76,304.55 105.29,308.76 105.82,313.00 106.35,317.25 106.88,321.51 107.41,325.77 107.94,330.03 108.46,334.28 108.99,338.51 109.52,342.71 110.05,346.88 110.58,351.01 111.11,355.09 111.63,359.12 112.16,363.08 112.69,366.98 113.22,370.81 113.75,374.55 114.28,378.21 114.81,381.78 115.33,385.24 115.86,388.61 116.39,391.86 116.92,395.00 117.45,398.02 117.98,400.91 118.51,403.67 119.03,406.30 119.56,408.79 120.09,411.14 120.62,413.34 121.15,415.40 121.68,417.30 122.20,419.04 122.73,420.62 123.26,422.05 123.79,423.31 124.32,424.40 124.85,425.33 125.38,426.09 125.90,426.68 126.43,427.10 126.96,427.36 127.49,427.44 128.02,427.35 128.55,427.09 129.08,426.66 129.60,426.06 130.13,425.30 130.66,424.37 131.19,423.28 131.72,422.03 132.25,420.61 132.77,419.04 133.30,417.32 133.83,415.45 134.36,413.43 134.89,411.26 135.42,408.96 135.95,406.52 136.47,403.96 137.00,401.26 137.53,398.44 138.06,395.51 138.59,392.47 139.12,389.31 139.65,386.06 140.17,382.72 140.70,379.28 141.23,375.76 141.76,372.16 142.29,368.50 142.82,364.76 143.34,360.97 143.87,357.13 144.40,353.25 144.93,349.32 145.46,345.36 145.99,341.38 146.52,337.38 147.04,333.37 147.57,329.35 148.10,325.34 148.63,321.33 149.16,317.34 149.69,313.38 150.21,309.44 150.74,305.54 151.27,301.68 151.80,297.87 152.33,294.11 152.86,290.41 153.39,286.79 153.91,283.23 154.44,279.76 154.97,276.37 155.50,273.07 156.03,269.87 156.56,266.77 157.09,263.78 157.61,260.90 158.14,258.13 158.67,255.49 159.20,252.97 159.73,250.58 160.26,248.32 160.78,246.20 161.31,244.22 161.84,242.38 162.37,240.69 162.90,239.15 163.43,237.75 163.96,236.51 164.48,235.43 165.01,234.50 165.54,233.73 166.07,233.12 166.60,232.67 167.13,232.38 167.66,232.25 168.18,232.28 168.71,232.47 169.24,232.81 169.77,233.32 170.30,233.99 170.83,234.81 171.35,235.78 171.88,236.91 172.41,238.19 172.94,239.62 173.47,241.19 174.00,242.91 174.53,244.76 175.05,246.75 175.58,248.87 176.11,251.12 176.64,253.50 177.17,256.00 177.70,258.61 178.22,261.33 178.75,264.16 179.28,267.09 179.81,270.12 180.34,273.24 180.87,276.45 181.40,279.73 181.92,283.09 182.45,286.52 182.98,290.01 183.51,293.56 184.04,297.16 184.57,300.80 185.10,304.48 185.62,308.20 186.15,311.94 186.68,315.70 187.21,319.47 187.74,323.25 188.27,327.02 188.79,330.79 189.32,334.55 189.85,338.29 190.38,342.01 190.91,345.69 191.44,349.33 191.97,352.93 192.49,356.49 193.02,359.98 193.55,363.41 194.08,366.78 194.61,370.07 195.14,373.29 195.67,376.42 196.19,379.46 196.72,382.40 197.25,385.25 197.78,388.00 198.31,390.63 198.84,393.16 199.36,395.57 199.89,397.85 200.42,400.02 200.95,402.05 201.48,403.96 202.01,405.73 202.54,407.37 203.06,408.86 203.59,410.22 204.12,411.43 204.65,412.49 205.18,413.41 205.71,414.18 206.24,414.81 206.76,415.28 207.29,415.60 207.82,415.77 208.35,415.79 208.88,415.66 209.41,415.37 209.93,414.94 210.46,414.36 210.99,413.63 211.52,412.76 212.05,411.74 212.58,410.58 213.11,409.28 213.63,407.84 214.16,406.27 214.69,404.56 215.22,402.72 215.75,400.76 216.28,398.68 216.80,396.48 217.33,394.16 217.86,391.74 218.39,389.20 218.92,386.57 219.45,383.84 219.98,381.01 220.50,378.10 221.03,375.11 221.56,372.03 222.09,368.89 222.62,365.68 223.15,362.41 223.68,359.08 224.20,355.71 224.73,352.29 225.26,348.83 225.79,345.34 226.32,341.82 226.85,338.29 227.37,334.74 227.90,331.18 228.43,327.62 228.96,324.07 229.49,320.52 230.02,316.99 230.55,313.48 231.07,310.00 231.60,306.56 232.13,303.15 232.66,299.79 233.19,296.48 233.72,293.23 234.25,290.03 234.77,286.91 235.30,283.85 235.83,280.88 236.36,277.99 236.89,275.18 237.42,272.46 237.94,269.85 238.47,267.33 239.00,264.91 239.53,262.61 240.06,260.41 240.59,258.34 241.12,256.38 241.64,254.54 242.17,252.83 242.70,251.24 243.23,249.79 243.76,248.47 244.29,247.28 244.81,246.23 245.34,245.32 245.87,244.54 246.40,243.91 246.93,243.42 247.46,243.07 247.99,242.86 248.51,242.79 249.04,242.87 249.57,243.08 250.10,243.44 250.63,243.94 251.16,244.58 251.69,245.35 252.21,246.27 252.74,247.31 253.27,248.49 253.80,249.80 254.33,251.24 254.86,252.80 255.38,254.49 255.91,256.29 256.44,258.21 256.97,260.25 257.50,262.39 258.03,264.64 258.56,266.99 259.08,269.44 259.61,271.98 260.14,274.61 260.67,277.32 261.20,280.11 261.73,282.98 262.26,285.91 262.78,288.91 263.31,291.97 263.84,295.08 264.37,298.24 264.90,301.45 265.43,304.69 265.95,307.96 266.48,311.26 267.01,314.58 267.54,317.92 268.07,321.26 268.60,324.61 269.13,327.96 269.65,331.29 270.18,334.62 270.71,337.93 271.24,341.21 271.77,344.46 272.30,347.68 272.82,350.85 273.35,353.98 273.88,357.06 274.41,360.09 274.94,363.05 275.47,365.94 276.00,368.76 276.52,371.51 277.05,374.18 277.58,376.76 278.11,379.25 278.64,381.65 279.17,383.95 279.70,386.15 280.22,388.25 280.75,390.24 281.28,392.12 281.81,393.88 282.34,395.53 282.87,397.06 283.39,398.46 283.92,399.75 284.45,400.90 284.98,401.93 285.51,402.83 286.04,403.60 286.57,404.24 287.09,404.74 287.62,405.11 288.15,405.35 288.68,405.45 289.21,405.42 289.74,405.26 290.27,404.96 290.79,404.53 291.32,403.97 291.85,403.28 292.38,402.46 292.91,401.52 293.44,400.44 293.96,399.25 294.49,397.93 295.02,396.49 295.55,394.94 296.08,393.28 296.61,391.50 297.14,389.62 297.66,387.63 298.19,385.54 298.72,383.36 299.25,381.08 299.78,378.72 300.31,376.26 300.84,373.73 301.36,371.13 301.89,368.45 302.42,365.70 302.95,362.90 303.48,360.03 304.01,357.12 304.53,354.15 305.06,351.15 305.59,348.10 306.12,345.03 306.65,341.93 307.18,338.80 307.71,335.66 308.23,332.52 308.76,329.36 309.29,326.21 309.82,323.06 310.35,319.92 310.88,316.80 311.40,313.70 311.93,310.62"/>
</g>
<rect x="44.20" y="207.00" width="271.80" height="235.00" fill="none" stroke="#000" stroke-width="1.8"/>
<line x1="44.20" y1="442.00" x2="44.20" y2="438.50" stroke="#000" stroke-width="1.3"/>
<text x="44.20" y="457" font-size="15" text-anchor="middle" class="k">0</text>
<line x1="86.03" y1="442.00" x2="86.03" y2="438.50" stroke="#000" stroke-width="1.3"/>
<text x="86.03" y="457" font-size="15" text-anchor="middle" class="k">10</text>
<line x1="127.87" y1="442.00" x2="127.87" y2="438.50" stroke="#000" stroke-width="1.3"/>
<text x="127.87" y="457" font-size="15" text-anchor="middle" class="k">20</text>
<line x1="169.70" y1="442.00" x2="169.70" y2="438.50" stroke="#000" stroke-width="1.3"/>
<text x="169.70" y="457" font-size="15" text-anchor="middle" class="k">30</text>
<line x1="211.53" y1="442.00" x2="211.53" y2="438.50" stroke="#000" stroke-width="1.3"/>
<text x="211.53" y="457" font-size="15" text-anchor="middle" class="k">40</text>
<line x1="253.37" y1="442.00" x2="253.37" y2="438.50" stroke="#000" stroke-width="1.3"/>
<text x="253.37" y="457" font-size="15" text-anchor="middle" class="k">50</text>
<line x1="295.20" y1="442.00" x2="295.20" y2="438.50" stroke="#000" stroke-width="1.3"/>
<text x="295.20" y="457" font-size="15" text-anchor="middle" class="k">60</text>
<line x1="44.20" y1="442.00" x2="47.70" y2="442.00" stroke="#000" stroke-width="1.3"/>
<text x="41.5" y="447.40" font-size="15" text-anchor="end" class="k">0.0</text>
<line x1="44.20" y1="324.50" x2="47.70" y2="324.50" stroke="#000" stroke-width="1.3"/>
<text x="41.5" y="329.90" font-size="15" text-anchor="end" class="k">0.5</text>
<line x1="44.20" y1="207.00" x2="47.70" y2="207.00" stroke="#000" stroke-width="1.3"/>
<text x="41.5" y="212.40" font-size="15" text-anchor="end" class="k">1.0</text>
<text transform="translate(107,484.5) scale(1,1.08)" font-size="20.5" class="k2">Pulse length<tspan font-size="18.6" dx="0.8" letter-spacing="0.5">(μs)</tspan></text>
<text transform="translate(14.8,394.4) rotate(-90)" font-size="20.5" letter-spacing="-0.15" class="k2">F=1</text>
<text transform="translate(14.8,351.0) rotate(-90)" font-size="20.5" letter-spacing="0.12" class="k2">Probability</text>
<text x="406.6" y="52.10" font-size="14" class="k">Qubit 1</text>
<line x1="463.4" y1="30.80" x2="463.4" y2="57.30" stroke="#000" stroke-width="1.2"/>
<path d="M460.5,56.70 L466.3,56.70 L463.4,63.00 Z" fill="#000"/>
<circle cx="463.4" cy="46.30" r="6.4" fill="#ff0000"/>
<path d="M495.80,51.60 L495.80,51.60 L495.80,25.90 L522.90,25.90 L522.90,51.60 L535.20,51.60 L535.20,25.90 L562.00,25.90 L562.00,51.60 L575.80,51.60 L575.80,25.90 L608.20,25.90 L608.20,51.60 L622.20,51.60 L622.20,25.90 L647.60,25.90 L647.60,51.60" fill="none" stroke="#ff1a1a" stroke-width="1.7"/>
<line x1="483.00" y1="51.60" x2="495.80" y2="51.60" stroke="#ff1a1a" stroke-width="1.7" stroke-dasharray="3.6,1.5"/>
<line x1="647.60" y1="51.60" x2="661.00" y2="51.60" stroke="#ff1a1a" stroke-width="1.7" stroke-dasharray="3.6,1.5"/>
<text transform="translate(500.85,46.40) scale(0.9,1)" font-size="17" class="ser" fill="#ff1a1a" stroke="#ff1a1a" stroke-width="0.2">C</text>
<text x="512.75" y="40.40" font-size="14" class="ser" fill="#ff1a1a" stroke="#ff1a1a" stroke-width="0.15">i</text>
<text x="510.85" y="51.10" font-size="12.2" fill="#ff1a1a" font-family="Liberation Serif" stroke="#ff1a1a" stroke-width="0.3">1</text>
<text transform="translate(540.10,46.40) scale(0.9,1)" font-size="17" class="ser" fill="#ff1a1a" stroke="#ff1a1a" stroke-width="0.2">C</text>
<text x="553.80" y="38.50" font-size="14" class="ser" fill="#ff1a1a" stroke="#ff1a1a" stroke-width="0.15">j</text>
<text x="550.10" y="51.10" font-size="12.2" fill="#ff1a1a" font-family="Liberation Serif" stroke="#ff1a1a" stroke-width="0.3">1</text>
<text transform="translate(583.50,46.40) scale(0.9,1)" font-size="17" class="ser" fill="#ff1a1a" stroke="#ff1a1a" stroke-width="0.2">C</text>
<text x="595.40" y="40.40" font-size="14" class="ser" fill="#ff1a1a" stroke="#ff1a1a" stroke-width="0.15">k</text>
<text x="593.50" y="51.10" font-size="12.2" fill="#ff1a1a" font-family="Liberation Serif" stroke="#ff1a1a" stroke-width="0.3">1</text>
<text transform="translate(626.40,46.40) scale(0.9,1)" font-size="17" class="ser" fill="#ff1a1a" stroke="#ff1a1a" stroke-width="0.2">C</text>
<text x="638.30" y="40.40" font-size="14" class="ser" fill="#ff1a1a" stroke="#ff1a1a" stroke-width="0.15">l</text>
<text x="636.40" y="51.10" font-size="12.2" fill="#ff1a1a" font-family="Liberation Serif" stroke="#ff1a1a" stroke-width="0.3">1</text>
<text x="406.6" y="92.90" font-size="14" class="k">Qubit 6</text>
<line x1="463.4" y1="71.60" x2="463.4" y2="98.10" stroke="#000" stroke-width="1.2"/>
<path d="M460.5,97.50 L466.3,97.50 L463.4,103.80 Z" fill="#000"/>
<circle cx="463.4" cy="87.10" r="6.4" fill="#ee8a33"/>
<path d="M495.80,93.30 L495.80,93.30 L495.80,67.50 L529.60,67.50 L529.60,93.30 L542.20,93.30 L542.20,67.50 L574.40,67.50 L574.40,93.30 L588.00,93.30 L588.00,67.50 L614.60,67.50 L614.60,93.30 L628.00,93.30 L628.00,67.50 L661.20,67.50 L661.20,93.30" fill="none" stroke="#d2782c" stroke-width="1.7"/>
<line x1="483.00" y1="93.30" x2="495.80" y2="93.30" stroke="#d2782c" stroke-width="1.7" stroke-dasharray="3.6,1.5"/>
<line x1="661.20" y1="93.30" x2="674.00" y2="93.30" stroke="#d2782c" stroke-width="1.7" stroke-dasharray="3.6,1.5"/>
<text transform="translate(504.20,88.00) scale(0.9,1)" font-size="17" class="ser" fill="#f0943e" stroke="#f0943e" stroke-width="0.2">C</text>
<text x="516.10" y="82.00" font-size="14" class="ser" fill="#f0943e" stroke="#f0943e" stroke-width="0.15">i</text>
<text x="514.20" y="92.70" font-size="12.2" fill="#f0943e" font-family="Liberation Serif" stroke="#f0943e" stroke-width="0.3">6</text>
<text transform="translate(549.80,88.00) scale(0.9,1)" font-size="17" class="ser" fill="#f0943e" stroke="#f0943e" stroke-width="0.2">C</text>
<text x="563.50" y="80.10" font-size="14" class="ser" fill="#f0943e" stroke="#f0943e" stroke-width="0.15">j</text>
<text x="559.80" y="92.70" font-size="12.2" fill="#f0943e" font-family="Liberation Serif" stroke="#f0943e" stroke-width="0.3">6</text>
<text transform="translate(592.80,88.00) scale(0.9,1)" font-size="17" class="ser" fill="#f0943e" stroke="#f0943e" stroke-width="0.2">C</text>
<text x="604.70" y="82.00" font-size="14" class="ser" fill="#f0943e" stroke="#f0943e" stroke-width="0.15">k</text>
<text x="602.80" y="92.70" font-size="12.2" fill="#f0943e" font-family="Liberation Serif" stroke="#f0943e" stroke-width="0.3">6</text>
<text transform="translate(636.10,88.00) scale(0.9,1)" font-size="17" class="ser" fill="#f0943e" stroke="#f0943e" stroke-width="0.2">C</text>
<text x="648.00" y="82.00" font-size="14" class="ser" fill="#f0943e" stroke="#f0943e" stroke-width="0.15">l</text>
<text x="646.10" y="92.70" font-size="12.2" fill="#f0943e" font-family="Liberation Serif" stroke="#f0943e" stroke-width="0.3">6</text>
<text x="406.6" y="133.90" font-size="14" class="k">Qubit 8</text>
<line x1="463.4" y1="112.60" x2="463.4" y2="139.10" stroke="#000" stroke-width="1.2"/>
<path d="M460.5,138.50 L466.3,138.50 L463.4,144.80 Z" fill="#000"/>
<circle cx="463.4" cy="128.10" r="6.4" fill="#c65ee0"/>
<path d="M495.80,133.30 L495.80,133.30 L495.80,107.50 L525.20,107.50 L525.20,133.30 L537.40,133.30 L537.40,107.50 L561.60,107.50 L561.60,133.30 L574.90,133.30 L574.90,107.50 L607.80,107.50 L607.80,133.30 L621.30,133.30 L621.30,107.50 L654.60,107.50 L654.60,133.30" fill="none" stroke="#8a3cc0" stroke-width="1.7"/>
<line x1="483.00" y1="133.30" x2="495.80" y2="133.30" stroke="#8a3cc0" stroke-width="1.7" stroke-dasharray="3.6,1.5"/>
<line x1="654.60" y1="133.30" x2="667.00" y2="133.30" stroke="#8a3cc0" stroke-width="1.7" stroke-dasharray="3.6,1.5"/>
<text transform="translate(502.00,128.00) scale(0.9,1)" font-size="17" class="ser" fill="#8a3cc0" stroke="#8a3cc0" stroke-width="0.2">C</text>
<text x="513.90" y="122.00" font-size="14" class="ser" fill="#8a3cc0" stroke="#8a3cc0" stroke-width="0.15">i</text>
<text x="512.00" y="132.70" font-size="12.2" fill="#8a3cc0" font-family="Liberation Serif" stroke="#8a3cc0" stroke-width="0.3">8</text>
<text transform="translate(541.00,128.00) scale(0.9,1)" font-size="17" class="ser" fill="#8a3cc0" stroke="#8a3cc0" stroke-width="0.2">C</text>
<text x="554.70" y="120.10" font-size="14" class="ser" fill="#8a3cc0" stroke="#8a3cc0" stroke-width="0.15">j</text>
<text x="551.00" y="132.70" font-size="12.2" fill="#8a3cc0" font-family="Liberation Serif" stroke="#8a3cc0" stroke-width="0.3">8</text>
<text transform="translate(582.85,128.00) scale(0.9,1)" font-size="17" class="ser" fill="#8a3cc0" stroke="#8a3cc0" stroke-width="0.2">C</text>
<text x="594.75" y="122.00" font-size="14" class="ser" fill="#8a3cc0" stroke="#8a3cc0" stroke-width="0.15">k</text>
<text x="592.85" y="132.70" font-size="12.2" fill="#8a3cc0" font-family="Liberation Serif" stroke="#8a3cc0" stroke-width="0.3">8</text>
<text transform="translate(629.45,128.00) scale(0.9,1)" font-size="17" class="ser" fill="#8a3cc0" stroke="#8a3cc0" stroke-width="0.2">C</text>
<text x="641.35" y="122.00" font-size="14" class="ser" fill="#8a3cc0" stroke="#8a3cc0" stroke-width="0.15">l</text>
<text x="639.45" y="132.70" font-size="12.2" fill="#8a3cc0" font-family="Liberation Serif" stroke="#8a3cc0" stroke-width="0.3">8</text>
<text x="406.6" y="174.80" font-size="14" class="k">Qubit 9</text>
<line x1="463.4" y1="153.50" x2="463.4" y2="180.00" stroke="#000" stroke-width="1.2"/>
<path d="M460.5,179.40 L466.3,179.40 L463.4,185.70 Z" fill="#000"/>
<circle cx="463.4" cy="169.00" r="6.4" fill="#1a8a1a"/>
<path d="M497.00,174.70 L497.00,174.70 L497.00,148.40 L517.10,148.40 L517.10,174.70 L530.00,174.70 L530.00,148.40 L556.50,148.40 L556.50,174.70 L568.80,174.70 L568.80,148.40 L596.30,148.40 L596.30,174.70 L609.40,174.70 L609.40,148.40 L644.40,148.40 L644.40,174.70" fill="none" stroke="#2a9a2a" stroke-width="1.7"/>
<line x1="484.00" y1="174.70" x2="497.00" y2="174.70" stroke="#2a9a2a" stroke-width="1.7" stroke-dasharray="3.6,1.5"/>
<line x1="644.40" y1="174.70" x2="657.00" y2="174.70" stroke="#2a9a2a" stroke-width="1.7" stroke-dasharray="3.6,1.5"/>
<text transform="translate(498.55,168.90) scale(0.9,1)" font-size="17" class="ser" fill="#2a9a2a" stroke="#2a9a2a" stroke-width="0.2">C</text>
<text x="510.45" y="162.90" font-size="14" class="ser" fill="#2a9a2a" stroke="#2a9a2a" stroke-width="0.15">i</text>
<text x="508.55" y="173.60" font-size="12.2" fill="#2a9a2a" font-family="Liberation Serif" stroke="#2a9a2a" stroke-width="0.3">9</text>
<text transform="translate(534.75,168.90) scale(0.9,1)" font-size="17" class="ser" fill="#2a9a2a" stroke="#2a9a2a" stroke-width="0.2">C</text>
<text x="548.45" y="161.00" font-size="14" class="ser" fill="#2a9a2a" stroke="#2a9a2a" stroke-width="0.15">j</text>
<text x="544.75" y="173.60" font-size="12.2" fill="#2a9a2a" font-family="Liberation Serif" stroke="#2a9a2a" stroke-width="0.3">9</text>
<text transform="translate(574.05,168.90) scale(0.9,1)" font-size="17" class="ser" fill="#2a9a2a" stroke="#2a9a2a" stroke-width="0.2">C</text>
<text x="585.95" y="162.90" font-size="14" class="ser" fill="#2a9a2a" stroke="#2a9a2a" stroke-width="0.15">k</text>
<text x="584.05" y="173.60" font-size="12.2" fill="#2a9a2a" font-family="Liberation Serif" stroke="#2a9a2a" stroke-width="0.3">9</text>
<text transform="translate(618.40,168.90) scale(0.9,1)" font-size="17" class="ser" fill="#2a9a2a" stroke="#2a9a2a" stroke-width="0.2">C</text>
<text x="630.30" y="162.90" font-size="14" class="ser" fill="#2a9a2a" stroke="#2a9a2a" stroke-width="0.15">l</text>
<text x="628.40" y="173.60" font-size="12.2" fill="#2a9a2a" font-family="Liberation Serif" stroke="#2a9a2a" stroke-width="0.3">9</text>
<line x1="425.91" y1="229.60" x2="425.91" y2="249.60" stroke="#f05050" stroke-width="1.1" opacity="0.55"/>
<line x1="460.70" y1="236.20" x2="460.70" y2="262.80" stroke="#f05050" stroke-width="1.1" opacity="0.55"/>
<line x1="495.49" y1="238.90" x2="495.49" y2="274.90" stroke="#f05050" stroke-width="1.1" opacity="0.55"/>
<line x1="530.28" y1="245.70" x2="530.28" y2="277.50" stroke="#f05050" stroke-width="1.1" opacity="0.55"/>
<line x1="565.07" y1="248.20" x2="565.07" y2="303.20" stroke="#f05050" stroke-width="1.1" opacity="0.55"/>
<line x1="599.86" y1="242.90" x2="599.86" y2="296.70" stroke="#f05050" stroke-width="1.1" opacity="0.55"/>
<line x1="634.65" y1="253.70" x2="634.65" y2="308.10" stroke="#f05050" stroke-width="1.1" opacity="0.55"/>
<line x1="669.44" y1="255.80" x2="669.44" y2="320.20" stroke="#f05050" stroke-width="1.1" opacity="0.55"/>
<line x1="425.91" y1="236.00" x2="425.91" y2="265.60" stroke="#f0a060" stroke-width="1.1" opacity="0.55"/>
<line x1="460.70" y1="237.10" x2="460.70" y2="285.10" stroke="#f0a060" stroke-width="1.1" opacity="0.55"/>
<line x1="495.49" y1="256.00" x2="495.49" y2="288.60" stroke="#f0a060" stroke-width="1.1" opacity="0.55"/>
<line x1="530.28" y1="264.80" x2="530.28" y2="323.80" stroke="#f0a060" stroke-width="1.1" opacity="0.55"/>
<line x1="565.07" y1="264.90" x2="565.07" y2="304.90" stroke="#f0a060" stroke-width="1.1" opacity="0.55"/>
<line x1="599.86" y1="279.90" x2="599.86" y2="357.30" stroke="#f0a060" stroke-width="1.1" opacity="0.55"/>
<line x1="634.65" y1="275.10" x2="634.65" y2="335.10" stroke="#f0a060" stroke-width="1.1" opacity="0.55"/>
<line x1="669.44" y1="301.40" x2="669.44" y2="356.00" stroke="#f0a060" stroke-width="1.1" opacity="0.55"/>
<line x1="425.91" y1="230.60" x2="425.91" y2="248.60" stroke="#a080e0" stroke-width="1.1" opacity="0.55"/>
<line x1="460.70" y1="240.00" x2="460.70" y2="264.00" stroke="#a080e0" stroke-width="1.1" opacity="0.55"/>
<line x1="495.49" y1="230.30" x2="495.49" y2="278.70" stroke="#a080e0" stroke-width="1.1" opacity="0.55"/>
<line x1="530.28" y1="260.40" x2="530.28" y2="300.40" stroke="#a080e0" stroke-width="1.1" opacity="0.55"/>
<line x1="565.07" y1="248.20" x2="565.07" y2="331.00" stroke="#a080e0" stroke-width="1.1" opacity="0.55"/>
<line x1="599.86" y1="267.30" x2="599.86" y2="327.30" stroke="#a080e0" stroke-width="1.1" opacity="0.55"/>
<line x1="634.65" y1="260.00" x2="634.65" y2="352.00" stroke="#a080e0" stroke-width="1.1" opacity="0.55"/>
<line x1="669.44" y1="283.60" x2="669.44" y2="343.60" stroke="#a080e0" stroke-width="1.1" opacity="0.55"/>
<line x1="425.91" y1="227.80" x2="425.91" y2="251.80" stroke="#6a7a30" stroke-width="1.1" opacity="0.55"/>
<line x1="460.70" y1="240.50" x2="460.70" y2="270.50" stroke="#6a7a30" stroke-width="1.1" opacity="0.55"/>
<line x1="495.49" y1="239.90" x2="495.49" y2="267.90" stroke="#6a7a30" stroke-width="1.1" opacity="0.55"/>
<line x1="530.28" y1="252.20" x2="530.28" y2="288.20" stroke="#6a7a30" stroke-width="1.1" opacity="0.55"/>
<line x1="565.07" y1="267.50" x2="565.07" y2="317.50" stroke="#6a7a30" stroke-width="1.1" opacity="0.55"/>
<line x1="599.86" y1="250.30" x2="599.86" y2="294.30" stroke="#6a7a30" stroke-width="1.1" opacity="0.55"/>
<line x1="634.65" y1="266.70" x2="634.65" y2="316.70" stroke="#6a7a30" stroke-width="1.1" opacity="0.55"/>
<line x1="669.44" y1="271.40" x2="669.44" y2="327.40" stroke="#6a7a30" stroke-width="1.1" opacity="0.55"/>
<circle cx="425.91" cy="239.60" r="3.0" fill="#ff1a1a"/>
<circle cx="460.70" cy="249.50" r="3.0" fill="#ff1a1a"/>
<circle cx="495.49" cy="256.90" r="3.0" fill="#ff1a1a"/>
<circle cx="530.28" cy="261.60" r="3.0" fill="#ff1a1a"/>
<circle cx="565.07" cy="275.70" r="3.0" fill="#ff1a1a"/>
<circle cx="599.86" cy="269.80" r="3.0" fill="#ff1a1a"/>
<circle cx="634.65" cy="280.90" r="3.0" fill="#ff1a1a"/>
<circle cx="669.44" cy="288.00" r="3.0" fill="#ff1a1a"/>
<circle cx="425.91" cy="250.80" r="3.0" fill="#f08c3c"/>
<circle cx="460.70" cy="261.10" r="3.0" fill="#f08c3c"/>
<circle cx="495.49" cy="272.30" r="3.0" fill="#f08c3c"/>
<circle cx="530.28" cy="294.30" r="3.0" fill="#f08c3c"/>
<circle cx="565.07" cy="284.90" r="3.0" fill="#f08c3c"/>
<circle cx="599.86" cy="318.60" r="3.0" fill="#f08c3c"/>
<circle cx="634.65" cy="305.10" r="3.0" fill="#f08c3c"/>
<circle cx="669.44" cy="328.70" r="3.0" fill="#f08c3c"/>
<circle cx="425.91" cy="239.60" r="3.0" fill="#a855f0"/>
<circle cx="460.70" cy="252.00" r="3.0" fill="#a855f0"/>
<circle cx="495.49" cy="254.50" r="3.0" fill="#a855f0"/>
<circle cx="530.28" cy="280.40" r="3.0" fill="#a855f0"/>
<circle cx="565.07" cy="289.60" r="3.0" fill="#a855f0"/>
<circle cx="599.86" cy="297.30" r="3.0" fill="#a855f0"/>
<circle cx="634.65" cy="306.00" r="3.0" fill="#a855f0"/>
<circle cx="669.44" cy="313.60" r="3.0" fill="#a855f0"/>
<circle cx="425.91" cy="239.80" r="3.0" fill="#1a8a1a"/>
<circle cx="460.70" cy="255.50" r="3.0" fill="#1a8a1a"/>
<circle cx="495.49" cy="253.90" r="3.0" fill="#1a8a1a"/>
<circle cx="530.28" cy="270.20" r="3.0" fill="#1a8a1a"/>
<circle cx="565.07" cy="292.50" r="3.0" fill="#1a8a1a"/>
<circle cx="599.86" cy="272.30" r="3.0" fill="#1a8a1a"/>
<circle cx="634.65" cy="291.70" r="3.0" fill="#1a8a1a"/>
<circle cx="669.44" cy="299.40" r="3.0" fill="#1a8a1a"/>
<polyline fill="none" stroke="#ff1a1a" stroke-width="2.0" points="425.91,239.80 430.88,240.92 435.85,242.03 440.82,243.14 445.79,244.25 450.76,245.34 455.73,246.43 460.70,247.51 465.67,248.59 470.64,249.66 475.61,250.73 480.58,251.79 485.55,252.84 490.52,253.89 495.49,254.94 500.46,255.97 505.43,257.00 510.40,258.03 515.37,259.05 520.34,260.06 525.31,261.07 530.28,262.07 535.25,263.07 540.22,264.06 545.19,265.05 550.16,266.03 555.13,267.00 560.10,267.97 565.07,268.94 570.04,269.90 575.01,270.85 579.98,271.80 584.95,272.74 589.92,273.68 594.89,274.61 599.86,275.54 604.83,276.46 609.80,277.38 614.77,278.29 619.74,279.20 624.71,280.10 629.68,281.00 634.65,281.89 639.62,282.78 644.59,283.66 649.56,284.54 654.53,285.41 659.50,286.28 664.47,287.14 669.44,288.00"/>
<polyline fill="none" stroke="#f08c3c" stroke-width="2.0" points="425.91,250.80 430.88,252.56 435.85,254.31 440.82,256.04 445.79,257.76 450.76,259.46 455.73,261.14 460.70,262.81 465.67,264.47 470.64,266.10 475.61,267.73 480.58,269.34 485.55,270.93 490.52,272.51 495.49,274.07 500.46,275.62 505.43,277.16 510.40,278.68 515.37,280.18 520.34,281.68 525.31,283.16 530.28,284.62 535.25,286.07 540.22,287.51 545.19,288.94 550.16,290.35 555.13,291.75 560.10,293.14 565.07,294.51 570.04,295.87 575.01,297.22 579.98,298.56 584.95,299.88 589.92,301.19 594.89,302.49 599.86,303.78 604.83,305.05 609.80,306.32 614.77,307.57 619.74,308.81 624.71,310.04 629.68,311.25 634.65,312.46 639.62,313.66 644.59,314.84 649.56,316.01 654.53,317.18 659.50,318.33 664.47,319.47 669.44,320.60"/>
<polyline fill="none" stroke="#a855f0" stroke-width="2.0" points="425.91,239.80 430.88,241.68 435.85,243.55 440.82,245.40 445.79,247.23 450.76,249.05 455.73,250.85 460.70,252.63 465.67,254.39 470.64,256.14 475.61,257.87 480.58,259.59 485.55,261.29 490.52,262.97 495.49,264.64 500.46,266.29 505.43,267.93 510.40,269.55 515.37,271.16 520.34,272.75 525.31,274.33 530.28,275.89 535.25,277.44 540.22,278.97 545.19,280.49 550.16,282.00 555.13,283.49 560.10,284.97 565.07,286.43 570.04,287.88 575.01,289.32 579.98,290.74 584.95,292.15 589.92,293.55 594.89,294.93 599.86,296.30 604.83,297.66 609.80,299.00 614.77,300.34 619.74,301.66 624.71,302.96 629.68,304.26 634.65,305.54 639.62,306.81 644.59,308.07 649.56,309.32 654.53,310.56 659.50,311.78 664.47,313.00 669.44,314.20"/>
<polyline fill="none" stroke="#1a8a1a" stroke-width="2.0" points="425.91,239.80 430.88,241.17 435.85,242.54 440.82,243.89 445.79,245.24 450.76,246.57 455.73,247.90 460.70,249.22 465.67,250.53 470.64,251.83 475.61,253.12 480.58,254.40 485.55,255.68 490.52,256.94 495.49,258.20 500.46,259.45 505.43,260.69 510.40,261.92 515.37,263.14 520.34,264.36 525.31,265.56 530.28,266.76 535.25,267.95 540.22,269.13 545.19,270.31 550.16,271.47 555.13,272.63 560.10,273.78 565.07,274.92 570.04,276.06 575.01,277.18 579.98,278.30 584.95,279.42 589.92,280.52 594.89,281.62 599.86,282.71 604.83,283.79 609.80,284.86 614.77,285.93 619.74,286.99 624.71,288.04 629.68,289.09 634.65,290.13 639.62,291.16 644.59,292.18 649.56,293.20 654.53,294.21 659.50,295.21 664.47,296.21 669.44,297.20"/>
<rect x="411.00" y="207.00" width="273.00" height="235.00" fill="none" stroke="#000" stroke-width="1.8"/>
<line x1="411.00" y1="442.00" x2="411.00" y2="438.50" stroke="#000" stroke-width="1.3"/>
<text x="411.00" y="457" font-size="15" text-anchor="middle" class="k">0</text>
<line x1="460.70" y1="442.00" x2="460.70" y2="438.50" stroke="#000" stroke-width="1.3"/>
<text x="460.70" y="457" font-size="15" text-anchor="middle" class="k">10</text>
<line x1="510.40" y1="442.00" x2="510.40" y2="438.50" stroke="#000" stroke-width="1.3"/>
<text x="510.40" y="457" font-size="15" text-anchor="middle" class="k">20</text>
<line x1="560.10" y1="442.00" x2="560.10" y2="438.50" stroke="#000" stroke-width="1.3"/>
<text x="560.10" y="457" font-size="15" text-anchor="middle" class="k">30</text>
<line x1="609.80" y1="442.00" x2="609.80" y2="438.50" stroke="#000" stroke-width="1.3"/>
<text x="609.80" y="457" font-size="15" text-anchor="middle" class="k">40</text>
<line x1="659.50" y1="442.00" x2="659.50" y2="438.50" stroke="#000" stroke-width="1.3"/>
<text x="659.50" y="457" font-size="15" text-anchor="middle" class="k">50</text>
<line x1="411.00" y1="442.00" x2="414.50" y2="442.00" stroke="#000" stroke-width="1.3"/>
<text x="408" y="447.40" font-size="15" text-anchor="end" class="k">0.5</text>
<line x1="411.00" y1="395.00" x2="414.50" y2="395.00" stroke="#000" stroke-width="1.3"/>
<text x="408" y="400.40" font-size="15" text-anchor="end" class="k">0.6</text>
<line x1="411.00" y1="348.00" x2="414.50" y2="348.00" stroke="#000" stroke-width="1.3"/>
<text x="408" y="353.40" font-size="15" text-anchor="end" class="k">0.7</text>
<line x1="411.00" y1="301.00" x2="414.50" y2="301.00" stroke="#000" stroke-width="1.3"/>
<text x="408" y="306.40" font-size="15" text-anchor="end" class="k">0.8</text>
<line x1="411.00" y1="254.00" x2="414.50" y2="254.00" stroke="#000" stroke-width="1.3"/>
<text x="408" y="259.40" font-size="15" text-anchor="end" class="k">0.9</text>
<line x1="411.00" y1="207.00" x2="414.50" y2="207.00" stroke="#000" stroke-width="1.3"/>
<text x="408" y="212.40" font-size="15" text-anchor="end" class="k">1.0</text>
<text x="539.5" y="371.50" font-size="16" fill="#ff0000" stroke="#ff0000" stroke-width="0.35" xml:space="preserve">Qubit 1:  0.9973(2)</text>
<text x="539.5" y="391.30" font-size="16" fill="#f08c3c" stroke="#f08c3c" stroke-width="0.35" xml:space="preserve">Qubit 6:  0.9953(5)</text>
<text x="539.5" y="411.10" font-size="16" fill="#9a10d0" stroke="#9a10d0" stroke-width="0.35" xml:space="preserve">Qubit 8:  0.9953(3)</text>
<text x="539.5" y="430.90" font-size="16" fill="#0a850a" stroke="#0a850a" stroke-width="0.35" xml:space="preserve">Qubit 9:  0.9967(5)</text>
<text transform="translate(437.6,483.8) scale(1,1.07)" font-size="20.5" letter-spacing="0.4" class="k2">Number of Clifford gate</text>
<text transform="translate(376.2,395.6) rotate(-90)" font-size="20.5" letter-spacing="-0.25" class="k2">F=1</text>
<text transform="translate(376.2,351.7) rotate(-90)" font-size="20.5" letter-spacing="0.19" class="k2">Probability</text>
</svg></body></html>
